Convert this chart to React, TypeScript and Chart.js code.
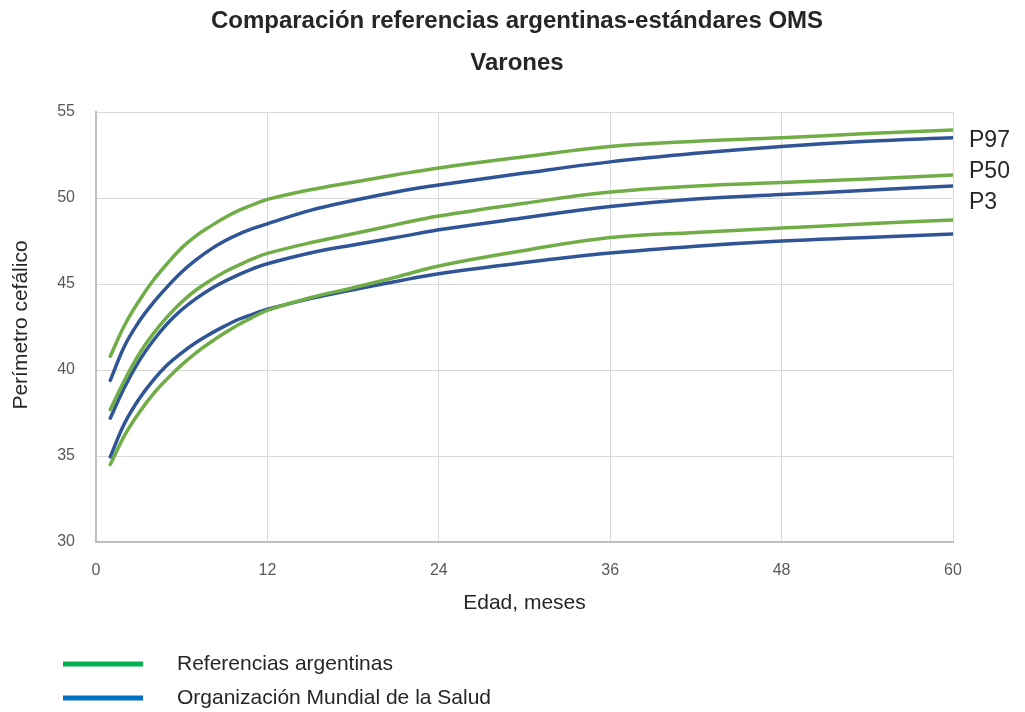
import React, { useEffect, useRef } from "react";
import { Chart, registerables } from "chart.js";

Chart.register(...registerables);

// Data (months, head circumference in cm)
const months = [1, 2, 3, 4, 5, 6, 7, 8, 9, 10, 11, 12, 15, 18, 21, 24, 30, 36, 42, 48, 54, 60];

const argP97 = [40.8, 42.6, 44.0, 45.2, 46.2, 47.1, 47.8, 48.35, 48.85, 49.28, 49.62, 49.92, 50.48, 50.92, 51.35, 51.75, 52.4, 53.0, 53.3, 53.5, 53.75, 53.95];
const argP50 = [37.7, 39.4, 40.9, 42.1, 43.1, 43.95, 44.65, 45.2, 45.7, 46.1, 46.47, 46.78, 47.4, 47.92, 48.45, 48.95, 49.7, 50.35, 50.7, 50.9, 51.1, 51.34];
const argP3 = [34.5, 36.2, 37.5, 38.6, 39.5, 40.3, 41.0, 41.6, 42.15, 42.65, 43.08, 43.47, 44.2, 44.78, 45.4, 46.05, 46.95, 47.7, 48.0, 48.25, 48.5, 48.72];

const omsP97 = [39.4, 41.4, 42.8, 43.9, 44.85, 45.7, 46.4, 47.0, 47.5, 47.9, 48.23, 48.5, 49.28, 49.85, 50.35, 50.75, 51.45, 52.1, 52.6, 53.0, 53.3, 53.5];
const omsP50 = [37.2, 39.0, 40.5, 41.7, 42.7, 43.5, 44.15, 44.7, 45.15, 45.55, 45.9, 46.18, 46.8, 47.27, 47.7, 48.15, 48.85, 49.5, 49.94, 50.2, 50.45, 50.7];
const omsP3 = [34.95, 36.9, 38.3, 39.4, 40.3, 41.0, 41.6, 42.1, 42.55, 42.95, 43.25, 43.53, 44.15, 44.67, 45.15, 45.6, 46.25, 46.8, 47.2, 47.5, 47.7, 47.9];

const xTickValues = [0, 12, 24, 36, 48, 60];
const yTickValues = [30, 35, 40, 45, 50, 55];
const seriesNames = ["Referencias argentinas", "Organización Mundial de la Salud"];
const percentileNames = ["P97", "P50", "P3"];
const titleText = "Comparación referencias argentinas-estándares OMS";
const subtitleText = "Varones";
const xTitle = "Edad, meses";
const yTitle = "Perímetro cefálico";

const GREEN_LINE = "#70ad47";
const BLUE_LINE = "#2f5597";
const GREEN_LEGEND = "#00b050";
const BLUE_LEGEND = "#0070c0";
const TEXT = "#262626";
const FONT = '"Liberation Sans", Arial, sans-serif';

const toPoints = (arr: number[]) => months.map((m, i) => ({ x: m, y: arr[i] }));

const textPlugin = {
  id: "customTexts",
  afterDraw(chart: any) {
    const ctx = chart.ctx as CanvasRenderingContext2D;
    const area = chart.chartArea;
    ctx.save();
    ctx.fillStyle = TEXT;
    ctx.textAlign = "center";
    ctx.textBaseline = "middle";
    ctx.font = `bold 24px ${FONT}`;
    ctx.fillText(titleText, 517, 21);
    ctx.fillText(subtitleText, 517, 63);

    ctx.font = `21px ${FONT}`;
    ctx.fillText(xTitle, (area.left + area.right) / 2, 603);
    ctx.save();
    ctx.translate(21, 325);
    ctx.rotate(-Math.PI / 2);
    ctx.fillText(yTitle, 0, 0);
    ctx.restore();

    // percentile labels
    ctx.textAlign = "left";
    ctx.font = `23px ${FONT}`;
    const py = [141, 172, 203];
    percentileNames.forEach((p, i) => ctx.fillText(p, 969, py[i]));

    // legend
    const ly = [664, 698];
    const lc = [GREEN_LEGEND, BLUE_LEGEND];
    ctx.font = `21px ${FONT}`;
    seriesNames.forEach((n, i) => {
      ctx.fillStyle = lc[i];
      ctx.fillRect(63, ly[i] - 2.5, 80, 5);
      ctx.fillStyle = TEXT;
      ctx.fillText(n, 177, ly[i]);
    });
    ctx.restore();
  },
};

export default function App() {
  const ref = useRef<HTMLCanvasElement | null>(null);
  useEffect(() => {
    if (!ref.current) return;
    const mk = (data: number[], color: string) => ({
      data: toPoints(data),
      borderColor: color,
      backgroundColor: color,
      borderWidth: 3.5,
      pointRadius: 0,
      borderCapStyle: "round" as const,
      borderJoinStyle: "round" as const,
      tension: 0.4,
      fill: false,
    });
    const chart = new Chart(ref.current, {
      type: "line",
      data: {
        datasets: [
          { label: seriesNames[0] + " P97", ...mk(argP97, GREEN_LINE) },
          { label: seriesNames[0] + " P50", ...mk(argP50, GREEN_LINE) },
          { label: seriesNames[0] + " P3", ...mk(argP3, GREEN_LINE) },
          { label: seriesNames[1] + " P97", ...mk(omsP97, BLUE_LINE) },
          { label: seriesNames[1] + " P50", ...mk(omsP50, BLUE_LINE) },
          { label: seriesNames[1] + " P3", ...mk(omsP3, BLUE_LINE) },
        ],
      },
      options: {
        animation: false,
        responsive: false,
        devicePixelRatio: 1,
        layout: { padding: { top: 112, right: 72, left: 0, bottom: 0 } },
        plugins: { legend: { display: false }, title: { display: false }, tooltip: { enabled: false } },
        scales: {
          x: {
            type: "linear",
            min: 0,
            max: 60,
            afterFit: (s: any) => { s.height = 170; },
            afterBuildTicks: (s: any) => { s.ticks = xTickValues.map((v) => ({ value: v })); },
            ticks: { color: "#595959", font: { family: FONT, size: 16 }, padding: 19 },
            grid: { color: "#d9d9d9", lineWidth: 1, drawTicks: false },
            border: { display: true, color: "#bfbfbf", width: 2 },
          },
          y: {
            type: "linear",
            min: 30,
            max: 55,
            afterFit: (s: any) => { s.width = 96; },
            afterBuildTicks: (s: any) => { s.ticks = yTickValues.map((v) => ({ value: v })); },
            ticks: { color: "#595959", font: { family: FONT, size: 16 }, padding: 21 },
            grid: { color: "#d9d9d9", lineWidth: 1, drawTicks: false },
            border: { display: true, color: "#bfbfbf", width: 2 },
          },
        },
      },
      plugins: [textPlugin],
    });
    return () => chart.destroy();
  }, []);
  return (
    <div style={{ position: "absolute", left: 0, top: 0, width: 1025, height: 712, background: "#fff" }}>
      <canvas ref={ref} width={1025} height={712} style={{ width: 1025, height: 712, display: "block" }} />
    </div>
  );
}
